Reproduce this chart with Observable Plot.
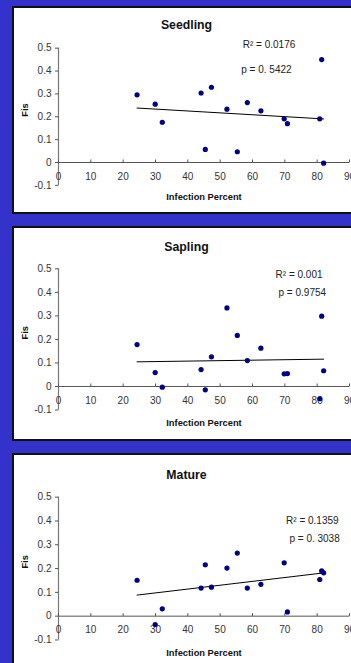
<!DOCTYPE html>
<html>
<head>
<meta charset="utf-8">
<script src="https://cdn.jsdelivr.net/npm/d3@7"></script>
<script src="https://cdn.jsdelivr.net/npm/@observablehq/plot@0.6"></script>
<style>
  html, body { margin: 0; padding: 0; }
  body { width: 351px; height: 663px; background: #3333cc; overflow: hidden; position: relative; font-family: "Liberation Sans", Arial, sans-serif; }
  .panel { position: absolute; left: 12px; width: 360px; background: #fff; border: 2px solid #111; box-sizing: border-box; }
  .chart { position: absolute; left: 0; width: 351px; }
</style>
</head>
<body>
<div class="panel" style="top:6px;height:208px"></div>
<div class="panel" style="top:226px;height:215px"></div>
<div class="panel" style="top:453px;height:230px"></div>
<div class="chart" id="c1" style="top:0px"></div>
<div class="chart" id="c2" style="top:215px"></div>
<div class="chart" id="c3" style="top:440px"></div>
<script>
// Data
const infection = [24.3, 29.9, 32.1, 44.1, 45.4, 47.3, 52.1, 55.3, 58.4, 62.6, 69.8, 70.8, 80.8, 81.4, 82.0];
const seedlingFis = [0.296, 0.255, 0.176, 0.304, 0.057, 0.329, 0.233, 0.047, 0.262, 0.226, 0.191, 0.170, 0.191, 0.450, -0.003];
const saplingFis = [0.178, 0.059, -0.003, 0.072, -0.014, 0.126, 0.334, 0.217, 0.110, 0.163, 0.054, 0.055, -0.052, 0.299, 0.067];
const matureFis = [0.151, -0.035, 0.031, 0.118, 0.216, 0.122, 0.202, 0.265, 0.118, 0.134, 0.224, 0.018, 0.154, 0.190, 0.182];

const xTicks = [0, 10, 20, 30, 40, 50, 60, 70, 80, 90];
const xTickLabels = ["0", "10", "20", "30", "40", "50", "60", "70", "80", "90"];
const yTicks = [-0.1, 0, 0.1, 0.2, 0.3, 0.4, 0.5];
const yTickLabels = ["-0.1", "0", "0.1", "0.2", "0.3", "0.4", "0.5"];

const titles = ["Seedling", "Sapling", "Mature"];
const xLabel = "Infection Percent";
const yLabel = "Fis";

const seedlingNotes = [{label: "R\u00b2 = 0.0176", x: 65.1, y: 0.516}, {label: "p = 0. 5422", x: 64.3, y: 0.407}];
const saplingNotes = [{label: "R\u00b2 = 0.001", x: 74.4, y: 0.475}, {label: "p = 0.9754", x: 75.4, y: 0.399}];
const matureNotes = [{label: "R\u00b2 = 0.1359", x: 78.5, y: 0.401}, {label: "p = 0. 3038", x: 79.2, y: 0.327}];

const tickUp = {draw(ctx) { ctx.moveTo(0, 0); ctx.lineTo(0, -3); }};
const tickLeft = {draw(ctx) { ctx.moveTo(0, 0); ctx.lineTo(-3.5, 0); }};

function panel({title, values, notes, height, marginTop, marginBottom, titleDy, xlabelDy}) {
  const data = infection.map((x, i) => ({x, y: values[i]}));
  return Plot.plot({
    width: 351, height, marginLeft: 58, marginRight: 2, marginTop, marginBottom,
    style: {background: "transparent", fontFamily: "'Liberation Sans', Arial, sans-serif", fontSize: "10px", overflow: "visible", color: "#222"},
    x: {domain: [0, 90], axis: null},
    y: {domain: [-0.1, 0.5], axis: null},
    marks: [
      Plot.ruleY([0], {x1: 0, x2: 90, stroke: "#555", strokeWidth: 1}),
      Plot.ruleX([0], {y1: -0.1, y2: 0.5, stroke: "#777", strokeWidth: 1.2}),
      Plot.dot(xTicks, {x: d => d, y: 0, symbol: tickUp, fill: "none", stroke: "#555", strokeWidth: 1}),
      Plot.dot(yTicks, {x: 0, y: d => d, symbol: tickLeft, fill: "none", stroke: "#555", strokeWidth: 1}),
      Plot.text(xTicks, {x: d => d, y: 0, dy: 14, text: (d, i) => xTickLabels[i], fill: "#333"}),
      Plot.text(yTicks, {x: 0, y: d => d, dx: -7, textAnchor: "end", text: (d, i) => yTickLabels[i], fill: "#333"}),
      Plot.linearRegressionY(data, {x: "x", y: "y", stroke: "#000", strokeWidth: 1, ci: 0}),
      Plot.dot(data, {x: "x", y: "y", r: 2.6, fill: "#000080", stroke: null}),
      Plot.text(notes, {x: "x", y: "y", text: "label", fill: "#222"}),
      Plot.text([title], {frameAnchor: "top", dx: -17.5, dy: titleDy, fontWeight: "bold", fontSize: 12.3, fill: "#111"}),
      Plot.text([xLabel], {frameAnchor: "bottom", dy: xlabelDy, fontWeight: "bold", fontSize: 9.3, fill: "#111"}),
      Plot.text([yLabel], {frameAnchor: "left", dx: -33, rotate: -90, fontWeight: "bold", fontSize: 9.3, fill: "#111"})
    ]
  });
}

document.getElementById("c1").append(panel({title: titles[0], values: seedlingFis, notes: seedlingNotes,
  height: 215, marginTop: 47.67, marginBottom: 30.13, titleDy: -27.7, xlabelDy: 15}));
document.getElementById("c2").append(panel({title: titles[1], values: saplingFis, notes: saplingNotes,
  height: 225, marginTop: 53.33, marginBottom: 30.47, titleDy: -26.6, xlabelDy: 15.5}));
document.getElementById("c3").append(panel({title: titles[2], values: matureFis, notes: matureNotes,
  height: 223, marginTop: 56.67, marginBottom: 23.53, titleDy: -27, xlabelDy: 16.5}));
</script>
</body>
</html>
